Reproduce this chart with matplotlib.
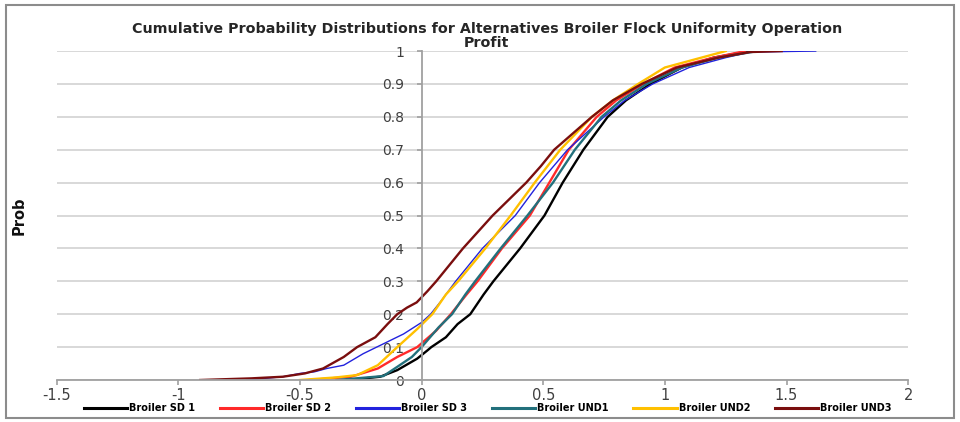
import matplotlib
matplotlib.use("Agg")
import matplotlib.pyplot as plt
from matplotlib.patches import Rectangle

# cumulative probability points (x = profit, p = probability)
sd1_p = [0, 0.01, 0.03, 0.065, 0.09, 0.10, 0.13, 0.17, 0.20, 0.26, 0.30, 0.40, 0.50, 0.60, 0.70, 0.80, 0.85, 0.90, 0.95, 0.98, 1.0]
sd1_x = [-0.30, -0.17, -0.10, -0.018, 0.024, 0.04, 0.10, 0.148, 0.20, 0.255, 0.295, 0.405, 0.505, 0.58, 0.665, 0.765, 0.84, 0.94, 1.07, 1.20, 1.35]

sd2_p = [0, 0.01, 0.035, 0.07, 0.10, 0.15, 0.20, 0.26, 0.30, 0.40, 0.50, 0.60, 0.70, 0.80, 0.85, 0.90, 0.95, 0.98, 1.0]
sd2_x = [-0.46, -0.29, -0.18, -0.10, -0.018, 0.06, 0.12, 0.185, 0.23, 0.33, 0.445, 0.525, 0.605, 0.72, 0.80, 0.91, 1.04, 1.20, 1.33]

sd3_p = [0, 0.01, 0.02, 0.025, 0.035, 0.045, 0.08, 0.11, 0.14, 0.175, 0.20, 0.24, 0.30, 0.40, 0.50, 0.60, 0.70, 0.80, 0.85, 0.90, 0.95, 0.98, 0.997, 1.0]
sd3_x = [-0.72, -0.57, -0.50, -0.44, -0.39, -0.32, -0.24, -0.157, -0.074, 0.0, 0.037, 0.08, 0.14, 0.25, 0.385, 0.485, 0.60, 0.75, 0.835, 0.95, 1.10, 1.25, 1.35, 1.62]

und1_p = [0, 0.012, 0.04, 0.07, 0.10, 0.16, 0.20, 0.26, 0.30, 0.40, 0.50, 0.60, 0.70, 0.80, 0.85, 0.90, 0.95, 0.98, 1.0]
und1_x = [-0.35, -0.157, -0.10, -0.04, 0.0, 0.07, 0.125, 0.18, 0.22, 0.325, 0.435, 0.54, 0.63, 0.74, 0.82, 0.925, 1.07, 1.22, 1.38]

und2_p = [0, 0.008, 0.015, 0.045, 0.10, 0.155, 0.20, 0.26, 0.30, 0.40, 0.50, 0.60, 0.70, 0.80, 0.85, 0.90, 0.95, 0.98, 1.0]
und2_x = [-0.50, -0.35, -0.265, -0.18, -0.10, -0.018, 0.044, 0.10, 0.15, 0.262, 0.366, 0.465, 0.57, 0.70, 0.786, 0.89, 1.0, 1.15, 1.25]

und3_p = [0, 0.005, 0.01, 0.02, 0.035, 0.07, 0.10, 0.13, 0.17, 0.20, 0.22, 0.236, 0.27, 0.30, 0.40, 0.50, 0.60, 0.65, 0.70, 0.80, 0.85, 0.90, 0.95, 0.98, 0.997, 1.0]
und3_x = [-0.91, -0.70, -0.57, -0.48, -0.405, -0.32, -0.265, -0.19, -0.14, -0.10, -0.06, -0.02, 0.024, 0.06, 0.17, 0.292, 0.43, 0.49, 0.545, 0.70, 0.786, 0.905, 1.05, 1.22, 1.35, 1.48]

labels = ['Broiler SD 1', 'Broiler SD 2', 'Broiler SD 3', 'Broiler UND1', 'Broiler UND2', 'Broiler UND3']
colors = ['#000000', '#FF2A2A', '#2222DD', '#22707C', '#FFC000', '#7A0E0E']
widths = [1.7, 1.7, 1.0, 1.7, 1.7, 1.7]
xs = [sd1_x, sd2_x, sd3_x, und1_x, und2_x, und3_x]
ps = [sd1_p, sd2_p, sd3_p, und1_p, und2_p, und3_p]

xticks = [-1.5, -1, -0.5, 0, 0.5, 1, 1.5, 2]
xticklabels = ['-1.5', '-1', '-0.5', '0', '0.5', '1', '1.5', '2']
yticks = [0, 0.1, 0.2, 0.3, 0.4, 0.5, 0.6, 0.7, 0.8, 0.9, 1]
yticklabels = ['0', '0.1', '0.2', '0.3', '0.4', '0.5', '0.6', '0.7', '0.8', '0.9', '1']

plt.rcParams['font.family'] = ['DejaVu Sans']

fig = plt.figure(figsize=(9.6, 4.22), dpi=100)
ax = fig.add_axes([0.059, 0.0995, 0.887, 0.7795])

for x, p, lab, c, w in zip(xs, ps, labels, colors, widths):
    ax.plot(x, p, color=c, lw=w, label=lab, solid_joinstyle='round')

ax.set_xlim(-1.5, 2)
ax.set_ylim(0, 1)
ax.set_xticks(xticks)
ax.set_xticklabels(xticklabels, fontsize=10.5)
ax.set_yticks(yticks)
ax.set_yticklabels(yticklabels, fontsize=10.5)
ax.grid(axis='y', color='#D6D6D6', lw=1.3)
ax.set_axisbelow(True)

for s in ['top', 'right']:
    ax.spines[s].set_visible(False)
ax.spines['left'].set_position(('data', 0))
for s in ['left', 'bottom']:
    ax.spines[s].set_color('#A0A0A0')
    ax.spines[s].set_linewidth(1.3)
ax.tick_params(axis='both', colors='#A0A0A0', labelcolor='#404040', length=3.6, width=1.2)
ax.tick_params(axis='x', pad=2.5)
ax.tick_params(axis='y', pad=9)

fig.text(0.507, 0.931, 'Cumulative Probability Distributions for Alternatives Broiler Flock Uniformity Operation',
         ha='center', va='center', fontsize=10.3, fontweight='bold', color='#262626')
fig.text(0.507, 0.897, 'Profit', ha='center', va='center', fontsize=10.3, fontweight='bold', color='#262626')
fig.text(0.020, 0.488, 'Prob', rotation=90, ha='center', va='center', fontsize=10.5,
         fontweight='bold', color='#111111')

fig.legend(loc='center', bbox_to_anchor=(0.508, 0.033), ncol=6, frameon=False,
           prop={'size': 7, 'weight': 'bold'},
           handlelength=4.5, handletextpad=0.2, columnspacing=2.5)
for line in fig.legends[0].get_lines():
    line.set_linewidth(2.2)

fig.patches.append(Rectangle((0.006, 0.01), 0.988, 0.978, transform=fig.transFigure,
                             fill=False, edgecolor='#8C8C8C', lw=1.5))

fig.savefig('out.png', dpi=100)
